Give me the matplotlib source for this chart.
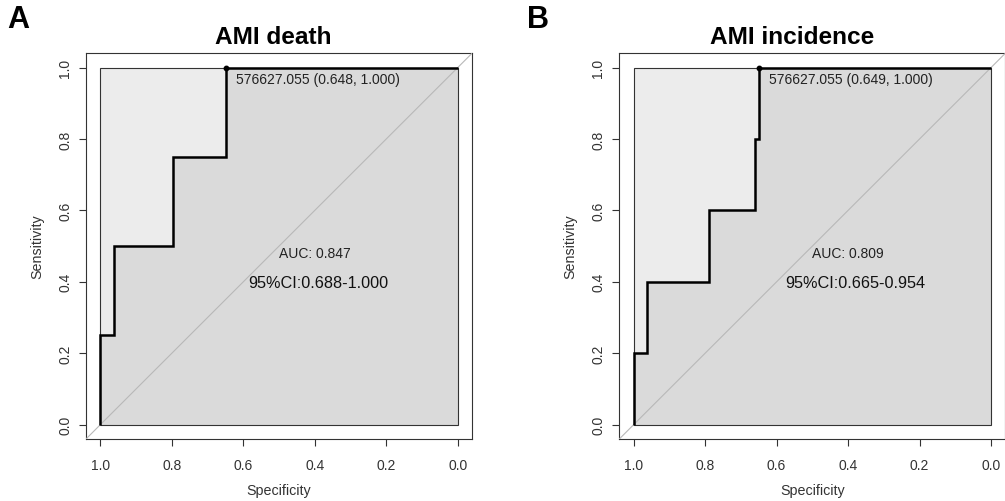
import matplotlib
matplotlib.use("Agg")
import matplotlib.pyplot as plt
from matplotlib.patches import Polygon, Rectangle

plt.rcParams['font.family'] = ['Liberation Sans', 'DejaVu Sans']

# ---- data ----
panel_letters = ["A", "B"]
titles = ["AMI death", "AMI incidence"]
# ROC curve corners (specificity, sensitivity)
spec_A = [1.0, 1.0, 0.963, 0.963, 0.796, 0.796, 0.648, 0.648, 0.0]
sens_A = [0.0, 0.25, 0.25, 0.5, 0.5, 0.75, 0.75, 1.0, 1.0]
spec_B = [1.0, 1.0, 0.963, 0.963, 0.789, 0.789, 0.659, 0.659, 0.649, 0.649, 0.0]
sens_B = [0.0, 0.2, 0.2, 0.4, 0.4, 0.6, 0.6, 0.8, 0.8, 1.0, 1.0]
thresholds = [576627.055, 576627.055]
best_spec = [0.648, 0.649]
best_sens = [1.000, 1.000]
auc_vals = [0.847, 0.809]
ci_low = [0.688, 0.665]
ci_high = [1.000, 0.954]
tick_vals = [0.0, 0.2, 0.4, 0.6, 0.8, 1.0]
tick_labels = ["0.0", "0.2", "0.4", "0.6", "0.8", "1.0"]

W, H = 1005, 502
fig = plt.figure(figsize=(W / 100, H / 100), dpi=100)

LIGHT = "#ECECEC"
DARK = "#DADADA"
EDGE = "#333333"

ax_left_px = [86, 619.3]
ax_w_px = 386
ax_top_px = 54.3
ax_bot_px = 440
title_cx = [273, 792]
letter_x = [7, 527]
ylab_x = [37, 570]
ci_x = [0.391, 0.380]

specs = [spec_A, spec_B]
senss = [sens_A, sens_B]

for i in range(2):
    ax = fig.add_axes([ax_left_px[i] / W, 1 - ax_bot_px / H,
                       ax_w_px / W, (ax_bot_px - ax_top_px) / H])
    ax.set_xlim(1.04, -0.04)
    ax.set_ylim(-0.04, 1.04)

    # max AUC square
    ax.add_patch(Rectangle((0, 0), 1, 1, facecolor=LIGHT, edgecolor="none", zorder=1))
    # AUC polygon
    poly = list(zip(specs[i], senss[i])) + [(0.0, 0.0), (1.0, 0.0)]
    ax.add_patch(Polygon(poly, closed=True, facecolor=DARK, edgecolor="none", zorder=2))
    ax.add_patch(Rectangle((0, 0), 1, 1, facecolor="none", edgecolor=EDGE, lw=0.8, zorder=3))
    # identity line
    ax.axline((1, 0), (0, 1), color="#B8B8B8", lw=0.8, zorder=4)
    # ROC curve
    ax.plot(specs[i], senss[i], color="black", lw=1.8, zorder=5,
            solid_joinstyle="miter", solid_capstyle="butt")
    # best threshold
    ax.plot([best_spec[i]], [best_sens[i]], "o", color="black", ms=3.2, zorder=6)
    ax.annotate(f"{thresholds[i]:.3f} ({best_spec[i]:.3f}, {best_sens[i]:.3f})",
                xy=(best_spec[i], best_sens[i]), xytext=(7, -3),
                textcoords="offset points", ha="left", va="top",
                fontsize=10, color="#222222", zorder=7)
    # AUC text
    ax.text(0.5, 0.5, f"AUC: {auc_vals[i]:.3f}", ha="left", va="top",
            fontsize=10, color="#222222", zorder=7)
    ax.text(ci_x[i], 0.398, f"95%CI:{ci_low[i]:.3f}-{ci_high[i]:.3f}",
            ha="center", va="center", fontsize=11.7, color="#111111", zorder=7)

    ax.set_xticks(tick_vals)
    ax.set_xticklabels(tick_labels)
    ax.set_yticks(tick_vals)
    ax.set_yticklabels(tick_labels, rotation=90, va="center")
    ax.tick_params(axis="both", length=5, width=0.8, color=EDGE,
                   labelsize=10, labelcolor="#333333", pad=5)
    ax.tick_params(axis="x", pad=9)
    for s in ax.spines.values():
        s.set_color(EDGE)
        s.set_linewidth(0.8)

    fig.text((ax_left_px[i] + ax_w_px / 2) / W, 1 - 491.5 / H, "Specificity",
             ha="center", va="center", fontsize=10.3, color="#333333")
    fig.text(ylab_x[i] / W, 1 - ((ax_top_px + ax_bot_px) / 2) / H, "Sensitivity",
             ha="center", va="center", rotation=90, fontsize=10.3, color="#333333")
    fig.text(title_cx[i] / W, 1 - 44 / H, titles[i], ha="center", va="baseline",
             fontsize=17.6, fontweight="bold")
    fig.text(letter_x[i] / W, 1 - 28 / H, panel_letters[i], ha="left", va="baseline",
             fontsize=22, fontweight="bold")

fig.savefig("out.png", dpi=100)
